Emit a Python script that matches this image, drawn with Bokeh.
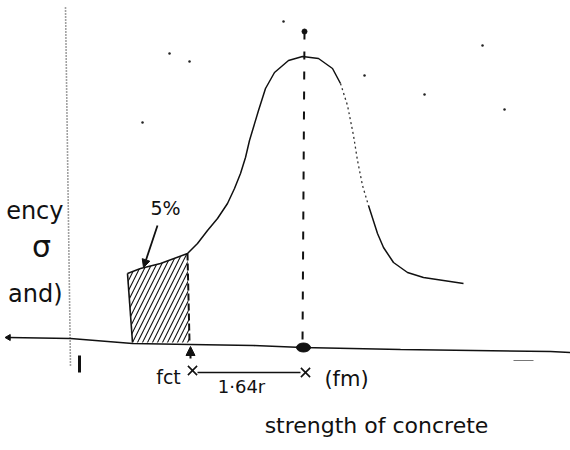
from bokeh.plotting import figure
from bokeh.models import Range1d, Arrow, NormalHead
from bokeh.core.properties import value
from bokeh.embed import file_html
from bokeh.resources import INLINE

# Sketch units: x = strength of concrete, y = frequency (height above page bottom)
# Normal curve, left tail (5% region) through the peak at the mean fm
curve_x = [127, 140, 160, 187, 197, 207, 217, 227, 234, 240, 245, 249, 258, 265, 274, 288,
           302, 318, 332, 340]
curve_y = [177, 182, 187, 197, 207, 220, 232, 247, 262, 277, 293, 310, 340, 362, 378, 390,
           394, 392, 382, 367]
# faint stretch on the falling side
faint_x = [340, 347, 353, 357, 362, 368]
faint_y = [367, 345, 315, 290, 265, 245]
# right tail
tail_x = [368, 377, 383, 393, 407, 423, 443, 463]
tail_y = [245, 217, 203, 188, 178, 173, 170, 167]

# shaded 5% area below fct
shade_x = [127, 140, 160, 187, 189, 132]
shade_y = [177, 182, 187, 197, 108, 108]

# strength axis (drawn freehand, slightly sloping)
base_x = [8, 70, 132, 190, 253, 302, 400, 550, 570]
base_y = [113, 112, 107, 106, 105, 103, 101, 99, 98]

# frequency axis
freq_axis_x = [65, 70]
freq_axis_y = [443, 83]

# characteristic strength and mean strength
fct = 190
fm = 303
mean_top = 419
base_at_fm = 103
base_at_fct = 105
dim_y = 78

# stray pencil specks on the sheet
speck_x = [283, 482, 169, 189, 142, 364, 424, 504]
speck_y = [429, 405, 397, 389, 328, 375, 356, 341]

FONT = value("DejaVu Sans")

p = figure(width=570, height=450, output_backend="svg", toolbar_location=None,
           x_range=Range1d(0, 570), y_range=Range1d(0, 450), min_border=0)
p.axis.visible = False
p.grid.visible = False
p.outline_line_color = None
p.background_fill_color = "white"
p.border_fill_color = "white"

ink = "#111111"

# frequency axis, dotted
p.line(freq_axis_x, freq_axis_y, line_color="#444444", line_width=1.6, line_dash="1 2")
# small tick under the axis
p.segment(x0=[79], y0=[95], x1=[79], y1=[78], line_color=ink, line_width=3)

# strength axis
p.line(base_x, base_y, line_color=ink, line_width=1.6)
p.scatter([base_x[0]], [base_y[0]], marker="triangle", angle=1.5708, size=6,
          fill_color=ink, line_color=ink)
p.segment(x0=[513], y0=[90], x1=[533], y1=[90], line_color="#777777", line_width=1)

# shaded 5% region
p.patch(shade_x, shade_y, fill_alpha=0, hatch_pattern="/", hatch_color=ink,
        hatch_weight=1.1, hatch_scale=10, line_color=None)
p.line([shade_x[0], shade_x[-1]], [shade_y[0], shade_y[-1]], line_color=ink, line_width=1.6)
p.line([shade_x[3], shade_x[4]], [shade_y[3], shade_y[4]], line_color=ink,
       line_width=2, line_dash="7 3")

# distribution curve
p.line(curve_x, curve_y, line_color=ink, line_width=1.5)
p.line(faint_x, faint_y, line_color="#333333", line_width=1.3, line_dash="2 3")
p.line(tail_x, tail_y, line_color=ink, line_width=1.5)

# mean line
p.line([fm + 1, fm - 1], [mean_top, base_at_fm + 2], line_color=ink, line_width=2,
       line_dash="8 12")
p.scatter([fm + 1], [mean_top], size=5, fill_color=ink, line_color=ink)
p.ellipse([fm], [base_at_fm], width=14, height=9, fill_color=ink, line_color=ink)

# arrow up to fct on the axis
p.add_layout(Arrow(end=NormalHead(size=9, fill_color=ink, line_color=ink),
                   x_start=fct, y_start=92, x_end=fct, y_end=base_at_fct - 1,
                   line_color=ink, line_width=2))

# 1.64 sigma dimension between fct and fm
p.line([fct + 7, fm - 3], [dim_y, dim_y], line_color=ink, line_width=1.5)
p.scatter([fct + 2, fm + 2], [dim_y + 2, dim_y], marker="x", size=13,
          line_color=ink, line_width=1.6)

# leader from the 5% label
p.add_layout(Arrow(end=NormalHead(size=8, fill_color=ink, line_color=ink),
                   x_start=157, y_start=225, x_end=143, y_end=183,
                   line_color=ink, line_width=1.8))

# specks
p.scatter(speck_x, speck_y, size=2.5, fill_color="#222222", line_color=None)

# labels
p.text([165], [243], text=["5%"], text_font=FONT, text_font_size="19px",
       text_align="center", text_baseline="middle", text_color=ink)
p.text([168], [74], text=["fct"], text_font=FONT, text_font_size="19px",
       text_align="center", text_baseline="middle", text_color=ink)
p.text([241], [64], text=["1·64r"], text_font=FONT, text_font_size="18px",
       text_align="center", text_baseline="middle", text_color=ink)
p.text([346], [72], text=["(fm)"], text_font=FONT, text_font_size="21px",
       text_align="center", text_baseline="middle", text_color=ink)
p.text([376], [25], text=["strength of concrete"], text_font=FONT,
       text_font_size="22px", text_align="center", text_baseline="middle",
       text_color=ink)

# frequency axis title pieces at the left edge of the sheet
p.text([63], [240], text=["ency"], text_font=FONT, text_font_size="24px",
       text_align="right", text_baseline="middle", text_color=ink)
p.text([41], [204], text=["σ"], text_font=FONT, text_font_size="30px",
       text_align="center", text_baseline="middle", text_color=ink)
p.text([62], [157], text=["and)"], text_font=FONT, text_font_size="24px",
       text_align="right", text_baseline="middle", text_color=ink)

open("out.html", "w").write(file_html(p, INLINE))
